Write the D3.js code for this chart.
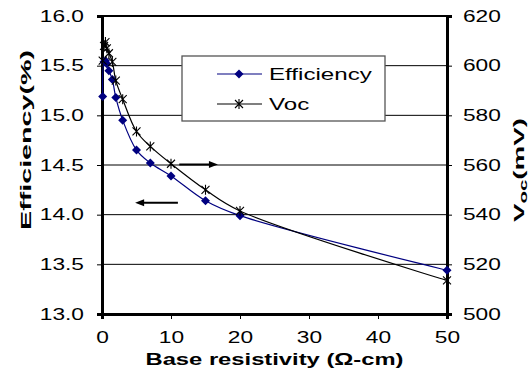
<!DOCTYPE html>
<html><head><meta charset="utf-8">
<script src="https://cdn.jsdelivr.net/npm/d3@7"></script>
<style>body{margin:0;background:#fff}svg{display:block}text{font-family:Arial,"Liberation Sans",sans-serif}</style>
</head><body><svg id="c" width="530" height="374"></svg>
<script>
const resistivity = [0.1, 0.3, 0.5, 0.7, 1, 1.5, 2, 3, 5, 7, 10, 15, 20, 50];
const efficiency  = [15.19, 15.54, 15.55, 15.52, 15.45, 15.36, 15.18, 14.95, 14.65, 14.52, 14.39, 14.14, 13.99, 13.44];
const voc         = [602, 608, 609.5, 607, 605, 601.5, 594, 586.5, 573.5, 567.5, 560.5, 550, 541.5, 513.5];
const xTicks = [0, 10, 20, 30, 40, 50];
const effTicks = [13.0, 13.5, 14.0, 14.5, 15.0, 15.5, 16.0];
const vocTicks = [500, 520, 540, 560, 580, 600, 620];
const seriesNames = ["Efficiency", "Voc"];

const svg = d3.select("#c");
const L = 102, R = 447, T = 16, B = 314;
const x = d3.scaleLinear().domain([0, 50]).range([L, R]);
const yE = d3.scaleLinear().domain([13, 16]).range([B, T]);
const yV = d3.scaleLinear().domain([500, 620]).range([B, T]);
const SX = 1.42;

// gridlines
svg.append("g").selectAll("line").data(effTicks.slice(1, -1)).join("line")
  .attr("x1", L).attr("x2", R).attr("y1", d => yE(d)).attr("y2", d => yE(d))
  .attr("stroke", "#000").attr("stroke-width", 1);

// plot border
svg.append("rect").attr("x", L).attr("y", T).attr("width", R - L).attr("height", B - T)
  .attr("fill", "none").attr("stroke", "#000").attr("stroke-width", 2);

function stretchLabels(g) {
  g.selectAll(".tick text").each(function () {
    const t = d3.select(this);
    const xx = +t.attr("x") || 0;
    t.attr("transform", `translate(${xx},0) scale(${SX},1)`).attr("x", 0);
  });
}

// left axis
const gl = svg.append("g").attr("transform", `translate(${L},0)`)
  .call(d3.axisLeft(yE).tickValues(effTicks).tickFormat(d3.format(".1f")).tickSize(5).tickPadding(13));
gl.select(".domain").attr("stroke-width", 3);
gl.selectAll("text").attr("font-size", 16).attr("fill", "#000");
stretchLabels(gl);

// right axis
const gr = svg.append("g").attr("transform", `translate(${R},0)`)
  .call(d3.axisRight(yV).tickValues(vocTicks).tickFormat(d3.format("d")).tickSize(5).tickPadding(11));
gr.select(".domain").attr("stroke-width", 3);
gr.selectAll("text").attr("font-size", 16).attr("fill", "#000");
stretchLabels(gr);

// bottom axis
const gb = svg.append("g").attr("transform", `translate(0,${B})`)
  .call(d3.axisBottom(x).tickValues(xTicks).tickFormat(d3.format("d")).tickSize(5).tickPadding(13));
gb.select(".domain").attr("stroke-width", 3);
gb.selectAll("text").attr("font-size", 16).attr("fill", "#000");
gb.selectAll(".tick text").attr("transform", `scale(${SX},1)`);

// lines
const curve = d3.curveCatmullRom.alpha(0.5);
const effPts = resistivity.map((r, i) => [r, efficiency[i]]);
const vocPts = resistivity.map((r, i) => [r, voc[i]]);
svg.append("path").datum(effPts)
  .attr("d", d3.line().x(d => x(d[0])).y(d => yE(d[1])).curve(curve))
  .attr("fill", "none").attr("stroke", "#000080").attr("stroke-width", 1.2);
svg.append("path").datum(vocPts)
  .attr("d", d3.line().x(d => x(d[0])).y(d => yV(d[1])).curve(curve))
  .attr("fill", "none").attr("stroke", "#000").attr("stroke-width", 1.2);

const diamond = "M0,-4.5L4.5,0L0,4.5L-4.5,0Z";
const star = "M-4,-4L4,4M-4,4L4,-4M0,-5L0,5";
svg.append("g").selectAll("path").data(effPts).join("path")
  .attr("transform", d => `translate(${x(d[0])},${yE(d[1])})`)
  .attr("d", diamond).attr("fill", "#000080");
svg.append("g").selectAll("path").data(vocPts).join("path")
  .attr("transform", d => `translate(${x(d[0])},${yV(d[1])})`)
  .attr("d", star).attr("fill", "none").attr("stroke", "#000").attr("stroke-width", 1.1);

// arrows
function arrow(x1, x2, yy) {
  const dir = Math.sign(x2 - x1);
  svg.append("line").attr("x1", x1).attr("x2", x2 - dir * 6).attr("y1", yy).attr("y2", yy)
    .attr("stroke", "#000").attr("stroke-width", 1.8);
  svg.append("path").attr("d", `M${x2},${yy}L${x2 - dir * 9},${yy - 3.5}L${x2 - dir * 9},${yy + 3.5}Z`).attr("fill", "#000");
}
arrow(x(11.2), x(16.8), yE(14.5) - 0.5);
arrow(x(11.0), x(4.8), yE(14.12));

// legend
const lg = svg.append("g");
lg.append("rect").attr("x", 182).attr("y", 56).attr("width", 203).attr("height", 65)
  .attr("fill", "#fff").attr("stroke", "#555").attr("stroke-width", 1.3);
const rows = [74, 104];
seriesNames.forEach((n, i) => {
  const yy = rows[i];
  lg.append("line").attr("x1", 217).attr("x2", 262).attr("y1", yy).attr("y2", yy)
    .attr("stroke", i ? "#000" : "#000080").attr("stroke-width", 1.2);
  if (i === 0) lg.append("path").attr("transform", `translate(239,${yy})`).attr("d", diamond).attr("fill", "#000080");
  else lg.append("path").attr("transform", `translate(239,${yy})`).attr("d", star).attr("fill", "none").attr("stroke", "#000").attr("stroke-width", 1.1);
  lg.append("text").attr("transform", `translate(269,${yy + 6}) scale(${SX},1)`)
    .attr("font-size", 17).text(n);
});

// axis titles
svg.append("text").attr("x", x(25)).attr("y", 365).attr("text-anchor", "middle")
  .attr("font-size", 16).attr("font-weight", "bold")
  .attr("textLength", 258).attr("lengthAdjust", "spacingAndGlyphs")
  .text("Base resistivity (Ω-cm)");
svg.append("text").attr("transform", "translate(31,140) rotate(-90)").attr("text-anchor", "middle")
  .attr("font-size", 14).attr("font-weight", "bold")
  .attr("textLength", 180).attr("lengthAdjust", "spacingAndGlyphs")
  .text("Efficiency(%)");
const vt = svg.append("text").attr("transform", "translate(524,170) rotate(-90) scale(1.85,1)").attr("text-anchor", "middle")
  .attr("font-size", 15).attr("font-weight", "bold");
vt.append("tspan").text("V");
vt.append("tspan").attr("font-size", 11).attr("dy", 3).text("oc");
vt.append("tspan").attr("dy", -3).text("(mV)");
</script></body></html>
